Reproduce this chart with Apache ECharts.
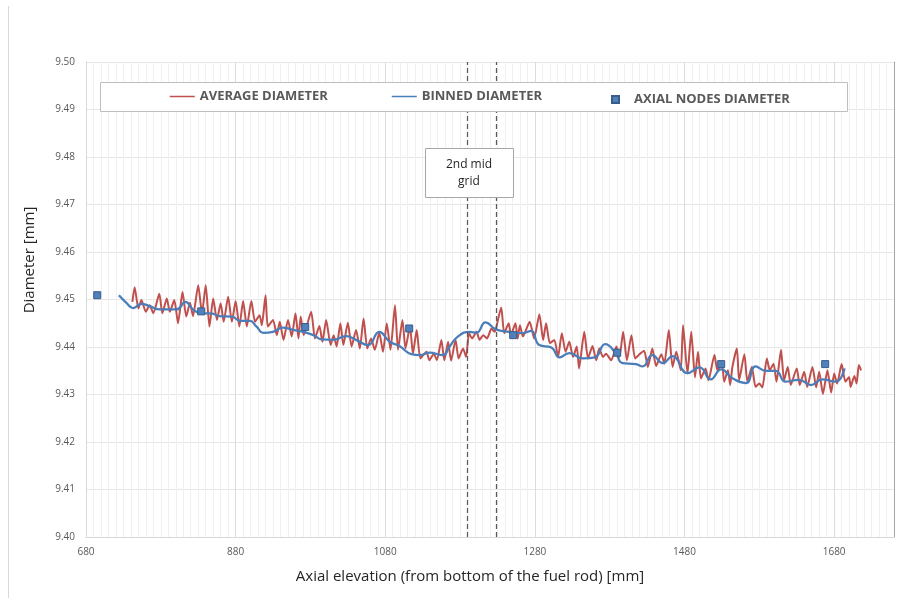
<!DOCTYPE html>
<html>
<head>
<meta charset="utf-8">
<script src="https://cdn.jsdelivr.net/npm/echarts@6.0.0/dist/echarts.min.js"></script>
<style>
  html, body { margin: 0; padding: 0; background: #fff; }
  #chart { width: 909px; height: 598px; }
</style>
</head>
<body>
<div id="chart"></div>
<script>
// measured average diameter (mm elevation, mm diameter)
var avgX = [
  742, 745, 750, 754, 760, 765, 770, 778, 782, 788,
  792, 798, 803, 809, 814, 819, 823, 830, 835, 840,
  845, 850, 855, 860, 864, 870, 875, 880, 885, 890,
  895, 901, 906, 912, 915, 920, 923, 930, 935,
  939, 944, 950, 955, 960, 964, 967, 971, 981, 986,
  992, 996, 1001, 1007, 1011, 1015, 1020, 1024, 1030, 1035,
  1041, 1046, 1051, 1056, 1061, 1066, 1072, 1077, 1082, 1087,
  1093, 1097, 1103, 1107, 1113, 1117, 1122, 1127, 1135, 1139,
  1145, 1149, 1155, 1159, 1164, 1168, 1174, 1178, 1184, 1188,
  1192, 1196, 1202, 1206, 1211, 1216, 1222, 1226,
  1228, 1235, 1239, 1245, 1248, 1254, 1257, 1260, 1264, 1273,
  1279, 1286, 1291, 1295, 1300, 1306, 1311, 1316, 1321, 1326,
  1331, 1336, 1339, 1346, 1351, 1357, 1362, 1366, 1371, 1375,
  1382, 1389, 1393, 1398, 1403, 1409, 1414, 1420, 1426, 1431,
  1437, 1442, 1449, 1453, 1459, 1464, 1469, 1475, 1478, 1484,
  1489, 1494,
  1498, 1502, 1508, 1512, 1520, 1524, 1530, 1533, 1538, 1541,
  1544, 1550, 1553, 1560, 1564, 1570, 1575, 1580, 1584, 1590,
  1594, 1599, 1603, 1609, 1613, 1618, 1622, 1630, 1634, 1640,
  1644, 1651, 1656, 1660, 1665, 1671, 1676, 1680, 1684, 1690,
  1695, 1700, 1702, 1707, 1710, 1713, 1716
];
var avgY = [
  9.4495, 9.4526, 9.4481, 9.4499, 9.4474, 9.4488, 9.4471, 9.4512, 9.4471, 9.4502,
  9.4474, 9.4499, 9.4450, 9.4516, 9.4464, 9.4493, 9.4465, 9.4530, 9.4471, 9.4530,
  9.4443, 9.4502, 9.4457, 9.4492, 9.4453, 9.4506, 9.4453, 9.4497, 9.4443, 9.4497,
  9.4443, 9.4497, 9.4453, 9.4467, 9.4446, 9.4509, 9.4443, 9.4457, 9.4425,
  9.4453, 9.4415, 9.4457, 9.4422, 9.4471, 9.4418, 9.4464, 9.4425, 9.4474, 9.4418,
  9.4444, 9.4411, 9.4457, 9.4404, 9.4425, 9.4401, 9.4450, 9.4404, 9.4451, 9.4401,
  9.4436, 9.4397, 9.4460, 9.4397, 9.4418, 9.4394, 9.4430, 9.4390, 9.4450, 9.4394,
  9.4488, 9.4394, 9.4457, 9.4397, 9.4443, 9.4386, 9.4436, 9.4376, 9.4390, 9.4372,
  9.4386, 9.4372, 9.4415, 9.4372, 9.4411, 9.4371, 9.4415, 9.4376, 9.4397, 9.4379,
  9.4429, 9.4418, 9.4432, 9.4415, 9.4425, 9.4418, 9.4439, 9.4432,
  9.4439, 9.4483, 9.4429, 9.4450, 9.4425, 9.4450, 9.4418, 9.4446, 9.4422, 9.4453,
  9.4418, 9.4469, 9.4415, 9.4450, 9.4408, 9.4415, 9.4379, 9.4429, 9.4390, 9.4411,
  9.4379, 9.4401, 9.4355, 9.4432, 9.4376, 9.4402, 9.4372, 9.4397, 9.4379, 9.4386,
  9.4372, 9.4401, 9.4379, 9.4432, 9.4372, 9.4425, 9.4376, 9.4385, 9.4392, 9.4358,
  9.4397, 9.4360, 9.4385, 9.4365, 9.4436, 9.4358, 9.4390, 9.4351, 9.4446, 9.4344,
  9.4432, 9.4336,
  9.4390, 9.4334, 9.4355, 9.4330, 9.4383, 9.4351, 9.4365, 9.4327, 9.4351, 9.4320,
  9.4358, 9.4397, 9.4330, 9.4385, 9.4327, 9.4358, 9.4316, 9.4323, 9.4315, 9.4376,
  9.4351, 9.4365, 9.4327, 9.4394, 9.4330, 9.4358, 9.4320, 9.4355, 9.4320, 9.4348,
  9.4316, 9.4358, 9.4315, 9.4348, 9.4301, 9.4351, 9.4304, 9.4344, 9.4323, 9.4364,
  9.4327, 9.4337, 9.4316, 9.4339, 9.4323, 9.4362, 9.4351
];

// binned diameter
var binX = [
  724, 734, 743, 754, 765, 779, 801, 813, 823, 834,
  846, 859, 875, 886, 899, 908, 917, 930, 943, 957,
  970, 984, 995, 1010, 1028, 1041, 1057, 1072, 1086, 1099,
  1115, 1126, 1139, 1157, 1166, 1177, 1193, 1202, 1214, 1228,
  1246, 1264, 1275, 1286, 1302, 1313, 1326, 1344, 1360, 1374,
  1388, 1397, 1415, 1424, 1437, 1451, 1464, 1484, 1500, 1515,
  1529, 1544, 1562, 1575, 1589, 1602, 1615, 1633, 1649, 1664,
  1682, 1694
];
var binY = [
  9.4509, 9.4493, 9.4482, 9.4491, 9.4486, 9.4479, 9.4479, 9.4495, 9.4479, 9.4471,
  9.4471, 9.4465, 9.4464, 9.4455, 9.4455, 9.4443, 9.4430, 9.4432, 9.4441, 9.4436,
  9.4432, 9.4425, 9.4416, 9.4415, 9.4423, 9.4415, 9.4404, 9.4432, 9.4411, 9.4402,
  9.4385, 9.4383, 9.4388, 9.4383, 9.4401, 9.4422, 9.4432, 9.4430, 9.4452, 9.4437,
  9.4432, 9.4429, 9.4434, 9.4404, 9.4399, 9.4378, 9.4387, 9.4376, 9.4378, 9.4406,
  9.4387, 9.4366, 9.4364, 9.4359, 9.4383, 9.4366, 9.4381, 9.4345, 9.4357, 9.4332,
  9.4353, 9.4334, 9.4324, 9.4359, 9.4350, 9.4350, 9.4327, 9.4331, 9.4320, 9.4332,
  9.4327, 9.4355
];

// axial nodes
var nodeX = [695, 834, 973, 1112, 1251, 1390, 1529, 1668];
var nodeY = [9.4509, 9.4475, 9.4442, 9.4439, 9.4425, 9.4388, 9.4364, 9.4364];

// 2nd mid grid span
var gridMarks = [1190, 1228];

var seriesNames = ['AVERAGE DIAMETER', 'BINNED DIAMETER', 'AXIAL NODES DIAMETER'];

function pairs(xs, ys) {
  var n = Math.min(xs.length, ys.length);
  var out = [];
  for (var i = 0; i < n; i++) out.push([xs[i], ys[i]]);
  return out;
}

var font = 'Open Sans';
var legendText = { color: '#595959', fontSize: 13, fontWeight: 'bold', fontFamily: font };

var chart = echarts.init(document.getElementById('chart'));
var option = {
  backgroundColor: '#ffffff',
  animation: false,
  grid: { left: 86, right: 15, top: 62, bottom: 61 },
  legend: [
    { data: [seriesNames[0]], left: 169, top: 90, padding: 0, itemWidth: 25, itemHeight: 14,
      itemStyle: { opacity: 0 }, lineStyle: { width: 1.5 }, textStyle: legendText, z: 12 },
    { data: [seriesNames[1]], left: 391, top: 90, padding: 0, itemWidth: 25, itemHeight: 14,
      itemStyle: { opacity: 0 }, lineStyle: { width: 1.5 }, textStyle: legendText, z: 12 },
    { data: [seriesNames[2]], left: 611, top: 93, padding: 0, itemWidth: 7, itemHeight: 7,
      textStyle: Object.assign({ padding: [0, 0, 0, 10] }, legendText), z: 12 }
  ],
  xAxis: [
    {
      type: 'value', position: 'top', min: 680, max: 1760, interval: 10,
      axisLine: { show: false }, axisTick: { show: false }, axisLabel: { show: false },
      splitLine: { lineStyle: { color: '#f0f0f0', width: 1 } }
    },
    {
      type: 'value', position: 'bottom', min: 680, max: 1760, interval: 200,
      axisLine: { lineStyle: { color: '#d9d9d9' } },
      axisTick: { show: false },
      axisLabel: {
        color: '#595959', fontSize: 10, fontFamily: font, margin: 10, showMaxLabel: false,
        formatter: function (v) { return String(v); }
      },
      splitLine: { lineStyle: { color: '#dcdcdc', width: 1 } }
    }
  ],
  yAxis: [
    {
      type: 'value', min: 9.40, max: 9.50, interval: 0.01,
      axisLine: { show: true, lineStyle: { color: '#d9d9d9' } },
      axisTick: { show: false },
      axisLabel: {
        color: '#595959', fontSize: 10, fontFamily: font, margin: 11,
        formatter: function (v) { return v.toFixed(2); }
      },
      splitLine: { lineStyle: { color: '#e6e6e6' } }
    },
    {
      type: 'value', position: 'right', min: 9.40, max: 9.50, interval: 0.01,
      axisLine: { show: true, lineStyle: { color: '#a6a6a6' } },
      axisTick: { show: false }, axisLabel: { show: false }, splitLine: { show: false }
    }
  ],
  series: [
    {
      name: seriesNames[0], type: 'line', xAxisIndex: 1, yAxisIndex: 0,
      data: pairs(avgX, avgY), symbol: 'none', smooth: 0.2,
      lineStyle: { color: '#C0504D', width: 2 }, itemStyle: { color: '#C0504D' },
      z: 2,
      markLine: {
        silent: true, symbol: 'none', label: { show: false },
        lineStyle: { color: '#595959', type: [5, 3], width: 1.25 },
        data: gridMarks.map(function (v) { return { xAxis: v }; })
      }
    },
    {
      name: seriesNames[1], type: 'line', xAxisIndex: 1, yAxisIndex: 0,
      data: pairs(binX, binY), symbol: 'none', smooth: 0.5,
      lineStyle: { color: '#4A7EBB', width: 2.25 }, itemStyle: { color: '#4A7EBB' },
      z: 3
    },
    {
      name: seriesNames[2], type: 'scatter', xAxisIndex: 1, yAxisIndex: 0,
      data: pairs(nodeX, nodeY), symbol: 'rect', symbolSize: 7,
      itemStyle: { color: '#4F81BD', borderColor: '#385D8A', borderWidth: 1, opacity: 1 },
      z: 4
    }
  ],
  graphic: [
    { type: 'line', shape: { x1: 8.5, y1: 6, x2: 8.5, y2: 598 }, style: { stroke: '#d9d9d9', lineWidth: 1 }, z: 1 },
    { type: 'rect', shape: { x: 100.5, y: 82.5, width: 747, height: 29 }, style: { fill: '#ffffff', stroke: '#bfbfbf', lineWidth: 1 }, z: 10 },
    { type: 'rect', shape: { x: 425.5, y: 148.5, width: 88, height: 49 }, style: { fill: '#ffffff', stroke: '#a6a6a6', lineWidth: 1 }, z: 10 },
    { type: 'text', x: 469, y: 173, z: 11,
      style: { text: '2nd mid\ngrid', fill: '#262626', fontSize: 12, fontFamily: font, lineHeight: 17, align: 'center', verticalAlign: 'middle' } },
    { type: 'text', x: 470, y: 577, z: 11,
      style: { text: 'Axial elevation (from bottom of the fuel rod) [mm]', fill: '#262626', fontSize: 15, fontFamily: font, align: 'center', verticalAlign: 'middle' } },
    { type: 'text', x: 30, y: 260, rotation: Math.PI / 2, z: 11,
      style: { text: 'Diameter [mm]', fill: '#262626', fontSize: 15, fontFamily: font, align: 'center', verticalAlign: 'middle' } }
  ]
};
chart.setOption(option);
</script>
</body>
</html>
